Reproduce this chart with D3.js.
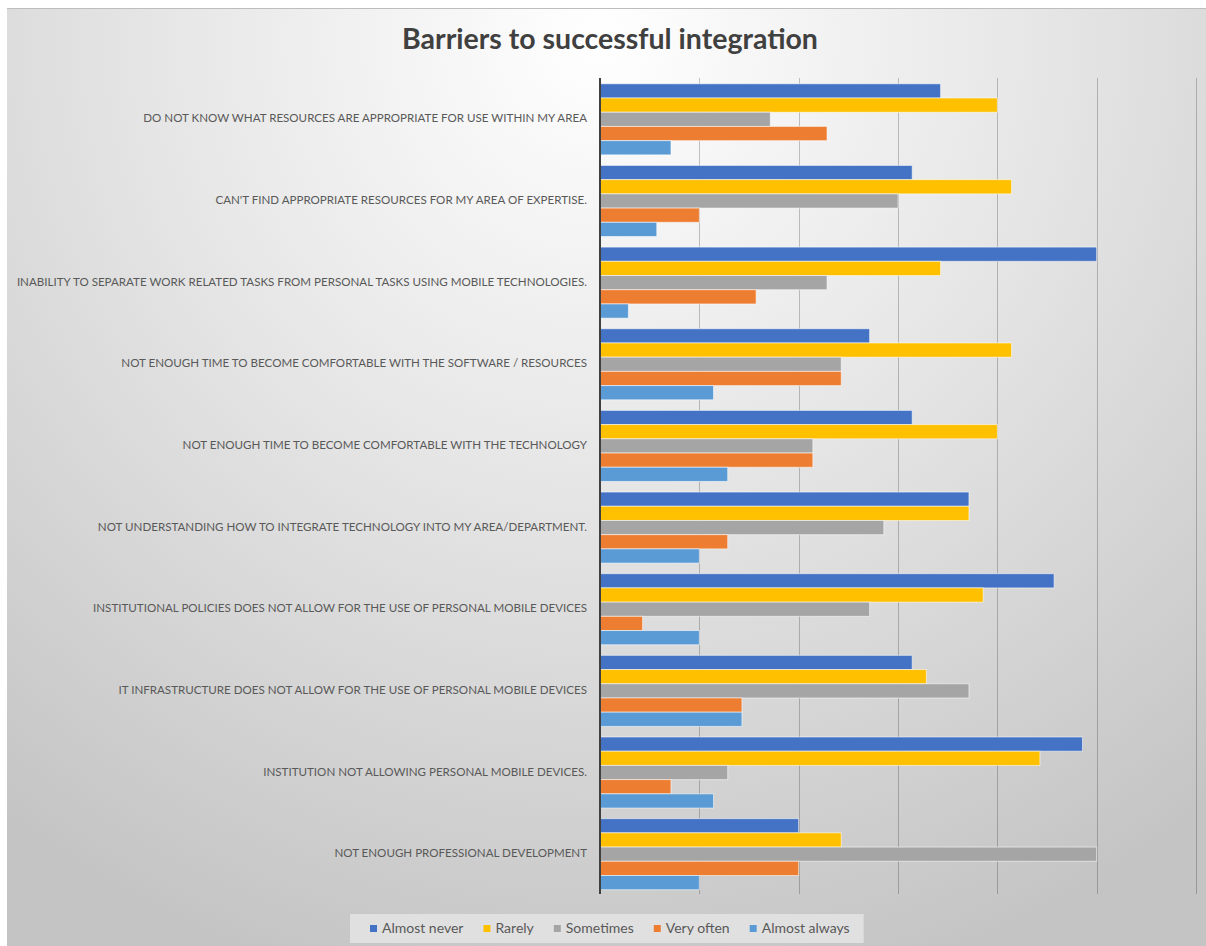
<!DOCTYPE html>
<html>
<head>
<meta charset="utf-8">
<script src="https://cdn.jsdelivr.net/npm/d3@7"></script>
<style>
  html, body { margin: 0; padding: 0; background: #ffffff; }
  svg { display: block; }
</style>
</head>
<body>
<svg id="chart" width="1206" height="946"></svg>
<script>
// Survey responses: number of respondents per barrier and frequency
const categories = [
  "DO NOT KNOW WHAT RESOURCES ARE APPROPRIATE FOR USE WITHIN MY AREA",
  "CAN'T FIND APPROPRIATE RESOURCES FOR MY AREA OF EXPERTISE.",
  "INABILITY TO SEPARATE WORK RELATED TASKS FROM PERSONAL TASKS USING MOBILE TECHNOLOGIES.",
  "NOT ENOUGH TIME TO BECOME COMFORTABLE WITH THE SOFTWARE / RESOURCES",
  "NOT ENOUGH TIME TO BECOME COMFORTABLE WITH THE TECHNOLOGY",
  "NOT UNDERSTANDING HOW TO INTEGRATE TECHNOLOGY INTO MY AREA/DEPARTMENT.",
  "INSTITUTIONAL POLICIES DOES NOT ALLOW FOR THE USE OF PERSONAL MOBILE DEVICES",
  "IT INFRASTRUCTURE DOES NOT ALLOW FOR THE USE OF PERSONAL MOBILE DEVICES",
  "INSTITUTION NOT ALLOWING PERSONAL MOBILE DEVICES.",
  "NOT ENOUGH PROFESSIONAL DEVELOPMENT"
];
const seriesNames = ["Almost never", "Rarely", "Sometimes", "Very often", "Almost always"];
const almostNever  = [24, 22, 35, 19, 22, 26, 32, 22, 34, 14];
const rarely       = [28, 29, 24, 29, 28, 26, 27, 23, 31, 17];
const sometimes    = [12, 21, 16, 17, 15, 20, 19, 26,  9, 35];
const veryOften    = [16,  7, 11, 17, 15,  9,  3, 10,  5, 14];
const almostAlways = [ 5,  4,  2,  8,  9,  7,  7, 10,  8,  7];
const seriesValues = [almostNever, rarely, sometimes, veryOften, almostAlways];
const gridTicks = [0, 7, 14, 21, 28, 35, 42];
const colors = ["#4472C4", "#FFC000", "#A5A5A5", "#ED7D31", "#5B9BD5"];

const W = 1206, H = 946;
const svg = d3.select("#chart");
const FONT = "Lato, 'Open Sans', sans-serif";

// Chart area background
const defs = svg.append("defs");
const grad = defs.append("radialGradient")
  .attr("id", "bg").attr("gradientUnits", "userSpaceOnUse")
  .attr("cx", 600).attr("cy", 40).attr("r", 980);
grad.append("stop").attr("offset", "0").attr("stop-color", "#ffffff");
grad.append("stop").attr("offset", "0.45").attr("stop-color", "#e6e6e6");
grad.append("stop").attr("offset", "1").attr("stop-color", "#c4c4c4");

svg.append("rect").attr("x", 7).attr("y", 8).attr("width", W - 7).attr("height", H - 8)
  .attr("fill", "url(#bg)");
svg.append("line").attr("x1", 7).attr("x2", W).attr("y1", 8.5).attr("y2", 8.5)
  .attr("stroke", "#bdbdbd").attr("stroke-width", 1);

// Scales
const x = d3.scaleLinear().domain([0, 42]).range([600, 1196]);
const y0 = d3.scaleBand().domain(categories).range([78.5, 895]).paddingInner(0).paddingOuter(0);
const y1 = d3.scaleBand().domain(seriesNames).range([0, y0.bandwidth()])
  .paddingInner(0).paddingOuter(0.373);

// Vertical gridlines
svg.append("g").selectAll("line").data(gridTicks.slice(1)).join("line")
  .attr("x1", d => Math.round(x(d)) + 0.5).attr("x2", d => Math.round(x(d)) + 0.5)
  .attr("y1", 78).attr("y2", 894)
  .attr("stroke", "#000").attr("stroke-opacity", 0.22).attr("stroke-width", 1);

// Bars
const rows = categories.map((c, i) => ({ cat: c, vals: seriesNames.map((s, k) => ({ s, k, v: seriesValues[k][i] })) }));
const gRows = svg.append("g").selectAll("g").data(rows).join("g")
  .attr("transform", d => `translate(0,${y0(d.cat)})`);
gRows.selectAll("rect").data(d => d.vals).join("rect")
  .attr("x", x(0))
  .attr("y", d => y1(d.s))
  .attr("width", d => x(d.v) - x(0))
  .attr("height", y1.bandwidth())
  .attr("fill", d => colors[d.k])
  .attr("stroke", "rgba(255,255,255,0.55)").attr("stroke-width", 1);

// Category axis line
svg.append("line").attr("x1", 600).attr("x2", 600).attr("y1", 78).attr("y2", 894)
  .attr("stroke", "#404040").attr("stroke-width", 2);

// Category labels, sized so the longest fits the left margin
const labels = svg.append("g").selectAll("text").data(categories).join("text")
  .attr("x", 587)
  .attr("y", d => y0(d) + y0.bandwidth() / 2 - 1)
  .attr("dy", "0.35em")
  .attr("text-anchor", "end")
  .attr("font-family", FONT).attr("font-size", 12)
  .attr("fill", "#595959")
  .text(d => d);
let maxW = 0;
labels.each(function () { maxW = Math.max(maxW, this.getComputedTextLength()); });
labels.attr("font-size", 12 * 571 / maxW);

// Title
const title = svg.append("text")
  .attr("x", 610).attr("y", 49)
  .attr("text-anchor", "middle")
  .attr("font-family", FONT).attr("font-weight", 700).attr("font-size", 24)
  .attr("fill", "#404040")
  .text("Barriers to successful integration");
const tw = title.node().getComputedTextLength();
title.attr("font-size", 24 * 416 / tw);

// Legend
const legend = svg.append("g");
const legendBox = legend.append("rect").attr("y", 914).attr("height", 29)
  .attr("fill", "#e4e4e4").attr("fill-opacity", 0.85);
let lx = 0;
const items = legend.append("g");
seriesNames.forEach((name, k) => {
  const it = items.append("g").attr("transform", `translate(${lx},0)`);
  it.append("rect").attr("x", 0).attr("y", 925).attr("width", 7).attr("height", 7).attr("fill", colors[k]);
  const t = it.append("text").attr("x", 12).attr("y", 933)
    .attr("font-family", FONT).attr("font-size", 14).attr("fill", "#595959").text(name);
  lx += 12 + t.node().getComputedTextLength() + 20;
});
const itemsW = lx - 20;
const startX = 370;
items.attr("transform", `translate(${startX},0)`);
legendBox.attr("x", startX - 20).attr("width", itemsW + 34);
</script>
</body>
</html>
